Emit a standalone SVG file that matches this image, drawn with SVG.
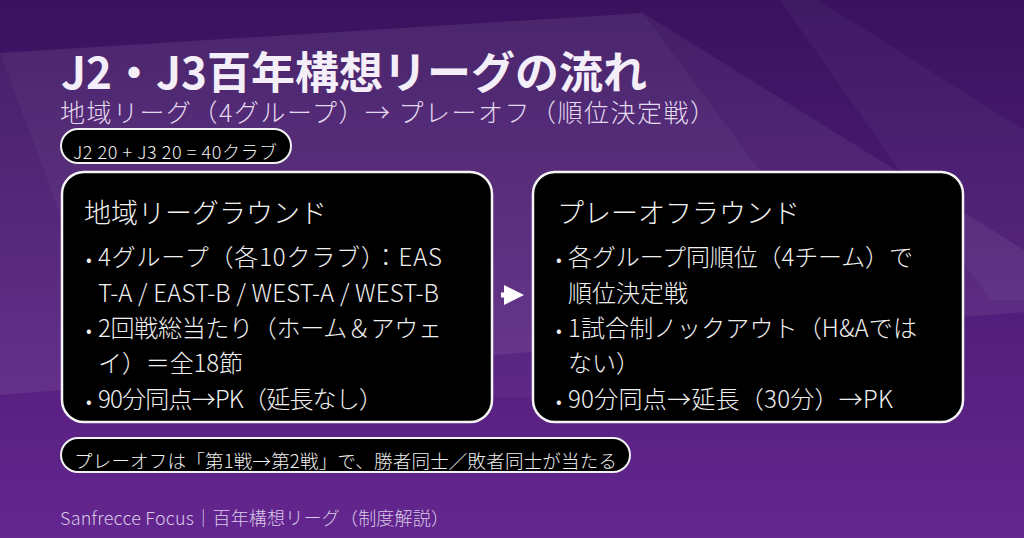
<svg xmlns="http://www.w3.org/2000/svg" width="1024" height="538" viewBox="0 0 1024 538">
  <defs>
    <linearGradient id="bg" x1="0" y1="0" x2="0" y2="1">
      <stop offset="0" stop-color="#39125e"/>
      <stop offset="1" stop-color="#64268f"/>
    </linearGradient>
    <linearGradient id="band" x1="0" y1="0" x2="0" y2="1">
      <stop offset="0" stop-color="#ffffff" stop-opacity="0.05"/>
      <stop offset="1" stop-color="#ffffff" stop-opacity="0.07"/>
    </linearGradient>
    <marker id="ah" viewBox="0 0 10 10" refX="2" refY="5" markerWidth="4" markerHeight="4" orient="auto" markerUnits="strokeWidth">
      <path d="M0,0 L10,5 L0,10 Z" fill="#ffffff"/>
    </marker>
  </defs>
  <style>
    .t { font-family: "Noto Sans CJK JP", "Noto Sans", "DejaVu Sans", sans-serif; }
    .title { font-size: 44px; font-weight: 700; fill: #f3eef8; }
    .sub { font-size: 25px; font-weight: 300; fill: #e4d9ee; }
    .pill { fill: #000000; stroke: #f2f2f2; stroke-width: 2; }
    .pilltxt { font-size: 18px; font-weight: 300; fill: #f0f0f0; }
    .box { fill: #000000; stroke: #f4f4f4; stroke-width: 2.5; }
    .head { font-size: 27px; font-weight: 300; fill: #f2f2f2; }
    .item { font-size: 24px; font-weight: 300; fill: #f0f0f0; }
    .dot { font-size: 18px; }
    .foot { font-size: 18px; font-weight: 300; fill: #d9c9e8; }
    .conn { stroke: #ffffff; stroke-width: 5; fill: none; }
  </style>

  <!-- background -->
  <rect x="0" y="0" width="1024" height="538" fill="url(#bg)"/>
  <polygon points="0,53 643,13 1024,250 1024,312 0,395" fill="url(#band)"/>
  <polygon points="0,53 643,13 930,400 128,395" fill="#ffffff" fill-opacity="0.035"/>
  <polygon points="780,0 818,0 1024,130 1024,300 990,300" fill="#ffffff" fill-opacity="0.035"/>

  <!-- header -->
  <g id="header">
    <text class="t title" x="61" y="89" textLength="586" lengthAdjust="spacing">J2・J3百年構想リーグの流れ</text>
    <text class="t sub" x="60" y="122" textLength="655" lengthAdjust="spacing">地域リーグ（4グループ）→ プレーオフ（順位決定戦）</text>
  </g>

  <g id="note-clubs">
    <rect class="pill" x="61" y="129" width="230" height="34" rx="17"/>
    <text class="t pilltxt" x="73" y="159" textLength="204" lengthAdjust="spacing">J2 20 + J3 20 = 40クラブ</text>
  </g>

  <g id="node-regional">
    <rect class="box" x="62" y="172" width="430" height="250" rx="22"/>
    <text class="t head" x="84" y="223">地域リーグラウンド</text>
    <text class="t item" y="266"><tspan class="dot" x="86">•</tspan><tspan x="98" textLength="344" lengthAdjust="spacing">4グループ（各10クラブ）：EAS</tspan></text>
    <text class="t item" x="98" y="302" textLength="341" lengthAdjust="spacing">T-A / EAST-B / WEST-A / WEST-B</text>
    <text class="t item" y="337"><tspan class="dot" x="86">•</tspan><tspan x="98" textLength="344" lengthAdjust="spacing">2回戦総当たり（ホーム＆アウェ</tspan></text>
    <text class="t item" x="98" y="372" textLength="145" lengthAdjust="spacing">イ）＝全18節</text>
    <text class="t item" y="408"><tspan class="dot" x="86">•</tspan><tspan x="98" textLength="285" lengthAdjust="spacing">90分同点→PK（延長なし）</tspan></text>
  </g>

  <g id="node-playoff">
    <rect class="box" x="533" y="172" width="430" height="250" rx="22"/>
    <text class="t head" x="557" y="223">プレーオフラウンド</text>
    <text class="t item" y="266"><tspan class="dot" x="556">•</tspan><tspan x="568" textLength="345" lengthAdjust="spacing">各グループ同順位（4チーム）で</tspan></text>
    <text class="t item" x="568" y="302">順位決定戦</text>
    <text class="t item" y="337"><tspan class="dot" x="556">•</tspan><tspan x="568" textLength="349" lengthAdjust="spacing">1試合制ノックアウト（H&amp;Aでは</tspan></text>
    <text class="t item" x="568" y="372">ない）</text>
    <text class="t item" y="408"><tspan class="dot" x="556">•</tspan><tspan x="568" textLength="325" lengthAdjust="spacing">90分同点→延長（30分）→PK</tspan></text>
  </g>

  <g id="connectors">
    <path class="conn" d="M501,295 L508,295" marker-end="url(#ah)"/>
  </g>

  <g id="note-playoff">
    <rect class="pill" x="61" y="438" width="569" height="34" rx="17"/>
    <text class="t pilltxt" x="74" y="468" style="font-size:18.5px" textLength="543" lengthAdjust="spacing">プレーオフは「第1戦→第2戦」で、勝者同士／敗者同士が当たる</text>
  </g>

  <g id="footer">
    <text class="t foot" x="60" y="525" textLength="389" lengthAdjust="spacing">Sanfrecce Focus｜百年構想リーグ（制度解説）</text>
  </g>
</svg>
